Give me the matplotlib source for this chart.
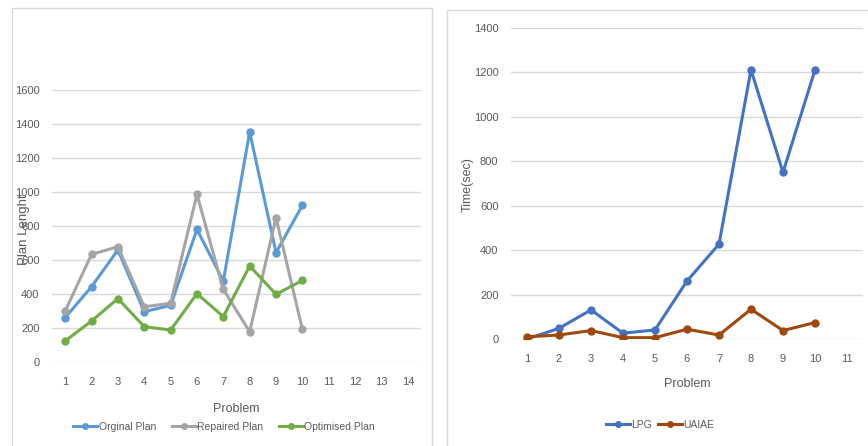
import matplotlib
matplotlib.use("Agg")
import matplotlib.pyplot as plt
from matplotlib.patches import Rectangle

# --- data -------------------------------------------------------------
problems_left = list(range(1, 11))
left_ticks = list(range(1, 15))
original_plan = [261, 443, 659, 296, 333, 780, 476, 1353, 643, 922]
repaired_plan = [300, 633, 678, 325, 345, 986, 427, 178, 849, 192]
optimised_plan = [124, 241, 373, 208, 188, 402, 267, 565, 398, 480]

problems_right = list(range(1, 11))
right_ticks = list(range(1, 12))
lpg_time = [0, 48, 131, 26, 41, 261, 427, 1212, 750, 1212]
uaiae_time = [10, 18, 38, 6, 6, 44, 18, 134, 38, 74]

# --- style ------------------------------------------------------------
plt.rcParams["font.family"] = ["Liberation Sans", "DejaVu Sans"]
txt = "#595959"
grid = "#D9D9D9"

fig = plt.figure(figsize=(8.68, 4.46), dpi=100)
W, H = 868, 446


def px_axes(x0, y0, x1, y1):
    return fig.add_axes([x0 / W, 1 - y1 / H, (x1 - x0) / W, (y1 - y0) / H])


# chart frames
for x0, y0, x1, y1 in [(12, 8, 432, 450), (447, 10, 875, 450)]:
    fig.patches.append(Rectangle((x0 / W, 1 - y1 / H), (x1 - x0) / W, (y1 - y0) / H,
                                 transform=fig.transFigure, fill=False,
                                 edgecolor=grid, lw=1.0))


def style(ax, ymax, step, xt, xlim):
    ax.set_ylim(0, ymax)
    ax.set_xlim(*xlim)
    ax.set_yticks(range(0, ymax + 1, step))
    ax.set_xticks(xt)
    ax.grid(axis="y", color=grid, lw=1.0)
    ax.set_axisbelow(True)
    for s in ax.spines.values():
        s.set_visible(False)
    ax.tick_params(length=0, labelsize=8, colors=txt)
    ax.tick_params(axis="y", pad=9)
    ax.tick_params(axis="x", pad=11)


lw, ms = 2.2, 5
leg_kw = dict(frameon=False, fontsize=7.5, labelcolor=txt, handlelength=2.3,
              handletextpad=0.15, markerscale=0.8, borderpad=0)

# --- left: plan length ------------------------------------------------
ax1 = px_axes(52, 90, 421, 362)
style(ax1, 1600, 200, left_ticks, (0.5, 14.5))
ax1.plot(problems_left, original_plan, color="#5B9BD5", lw=lw, marker="o", ms=ms, label="Orginal Plan")
ax1.plot(problems_left, repaired_plan, color="#A5A5A5", lw=lw, marker="o", ms=ms, label="Repaired Plan")
ax1.plot(problems_left, optimised_plan, color="#70AD47", lw=lw, marker="o", ms=ms, label="Optimised Plan")
ax1.set_xlabel("Problem", fontsize=9, color=txt, labelpad=11)
fig.text(24 / W, 1 - 230 / H, "Plan Lenght", rotation=90, ha="center", va="center",
         fontsize=9.5, color=txt)
ax1.legend(loc="center", bbox_to_anchor=(224 / W, 1 - 427 / H), bbox_transform=fig.transFigure,
           ncol=3, columnspacing=1.5, **leg_kw)

# --- right: running time ----------------------------------------------
ax2 = px_axes(511, 28, 863, 339)
style(ax2, 1400, 200, right_ticks, (0.5, 11.5))
ax2.plot(problems_right, lpg_time, color="#4472C4", lw=lw, marker="o", ms=ms, label="LPG")
ax2.plot(problems_right, uaiae_time, color="#9E480E", lw=lw, marker="o", ms=ms, label="UAIAE")
ax2.set_xlabel("Problem", fontsize=9, color=txt, labelpad=10)
fig.text(468 / W, 1 - 185 / H, "Time(sec)", rotation=90, ha="center", va="center",
         fontsize=9, color=txt)
ax2.legend(loc="center", bbox_to_anchor=(660 / W, 1 - 425 / H), bbox_transform=fig.transFigure,
           ncol=2, columnspacing=0.5, **leg_kw)

fig.savefig("out.png", dpi=100, facecolor="white")
